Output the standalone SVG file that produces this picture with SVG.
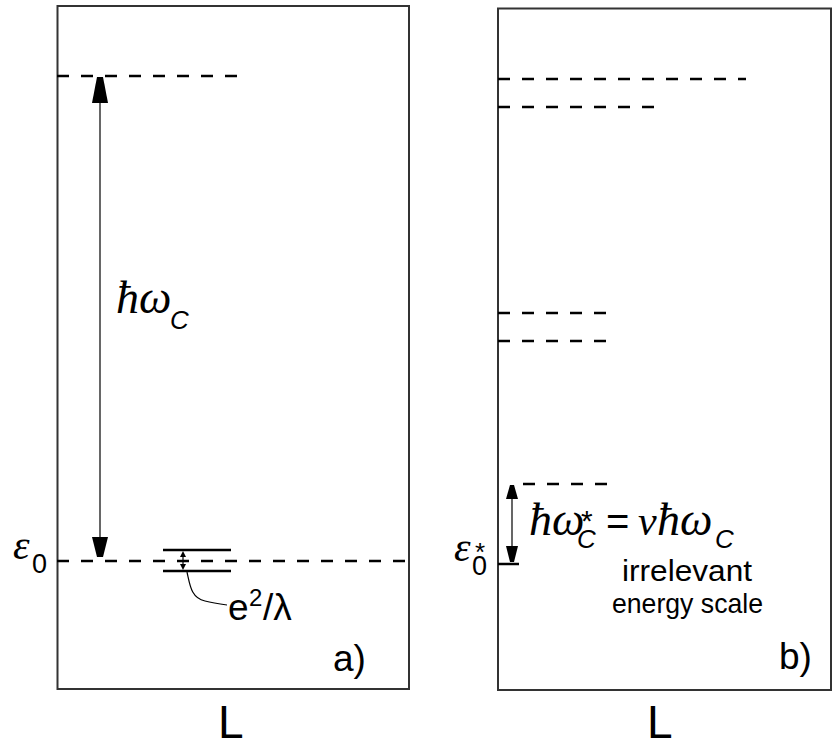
<svg xmlns="http://www.w3.org/2000/svg" width="832" height="749" viewBox="0 0 832 749">
<style>
.box{fill:none;stroke:#333;stroke-width:2}
.dash{stroke:#000;stroke-width:2.5;stroke-dasharray:12 12;fill:none}
.solid{stroke:#000;stroke-width:2.5;fill:none}
.thin{stroke:#000;stroke-width:1.2;fill:none}
.head{fill:#000}
.sym{font-family:"Liberation Serif","DejaVu Serif",serif;font-style:italic;fill:#000}
.sans{font-family:"Liberation Sans",Arial,sans-serif;fill:#000}
.up{font-family:"Liberation Sans",Arial,sans-serif;font-style:normal}
.sub{font-family:"Liberation Sans",Arial,sans-serif;font-style:italic}
</style>
<rect width="832" height="749" fill="#fff"/>
<g id="panel-a">
  <rect class="box" x="57.5" y="6" width="351.5" height="683"/>
</g>
<g id="panel-b">
  <rect class="box" x="498" y="8.5" width="333" height="681.5"/>
</g>
<g id="levels-a">
  <line class="dash" x1="57" y1="76" x2="244" y2="76"/>
  <line class="dash" x1="57" y1="561" x2="409" y2="561"/>
  <line class="solid" x1="163" y1="550" x2="231" y2="550"/>
  <line class="solid" x1="163" y1="571" x2="231" y2="571"/>
</g>
<g id="levels-b">
  <line class="dash" x1="498" y1="79" x2="746" y2="79"/>
  <line class="dash" x1="498" y1="107" x2="657" y2="107"/>
  <line class="dash" x1="498" y1="313" x2="607" y2="313"/>
  <line class="dash" x1="498" y1="341" x2="607" y2="341"/>
  <line class="dash" x1="523" y1="484" x2="607" y2="484"/>
  <line class="solid" x1="498" y1="564" x2="519" y2="564"/>
</g>
<g id="connectors">
  <line class="thin" x1="100" y1="90" x2="100" y2="545"/>
  <polygon class="head" points="97,77 103,77 108,103 92,103"/>
  <polygon class="head" points="92,537 108,537 103,557 97,557"/>
  <line class="thin" x1="512" y1="492" x2="512" y2="555"/>
  <polygon class="head" points="510,485 514,485 518,499 506,499"/>
  <polygon class="head" points="506,546 518,546 514,562 510,562"/>
  <line class="thin" x1="183" y1="553" x2="183" y2="568"/>
  <polygon class="head" points="183,551 186,557 180,557"/>
  <polygon class="head" points="183,570 186,564 180,564"/>
  <path class="thin" d="M187,572 C190,585 191,598 205,601 C213,603 220,604 227,605"/>
</g>
<g id="labels">
  <text class="sym" x="13" y="559" font-size="42">ε<tspan class="up" x="32" y="573" font-size="27">0</tspan></text>
  <text class="sym" x="116" y="313" font-size="46">ħω<tspan class="sub" x="170" y="329" font-size="26">C</tspan></text>
  <text class="sans" x="228" y="620" font-size="37">e<tspan x="249" y="606" font-size="24">2</tspan><tspan x="263" y="620">/λ</tspan></text>
  <text class="sans" x="333" y="671" font-size="37">a)</text>
  <text class="sans" x="218" y="738" font-size="46">L</text>

  <text class="sym" x="454" y="561" font-size="42">ε<tspan class="up" x="472" y="575" font-size="27">0</tspan><tspan class="up" x="475" y="561" font-size="26">*</tspan></text>
  <text class="sym" x="529" y="535" font-size="46">ħω<tspan class="up" x="581" y="531" font-size="30">*</tspan><tspan class="sub" x="577" y="548" font-size="26">C</tspan><tspan class="up" x="606" y="535" font-size="40" font-family="Liberation Serif">=</tspan><tspan x="638" y="535" font-size="42">ν</tspan><tspan x="657" y="535">ħω</tspan><tspan class="sub" x="715" y="548" font-size="26">C</tspan></text>
  <text class="sans" x="622" y="581" font-size="30" textLength="130" lengthAdjust="spacingAndGlyphs">irrelevant</text>
  <text class="sans" x="612" y="613" font-size="28" textLength="151" lengthAdjust="spacingAndGlyphs">energy scale</text>
  <text class="sans" x="779" y="669" font-size="37">b)</text>
  <text class="sans" x="647" y="738" font-size="46">L</text>
</g>
</svg>
